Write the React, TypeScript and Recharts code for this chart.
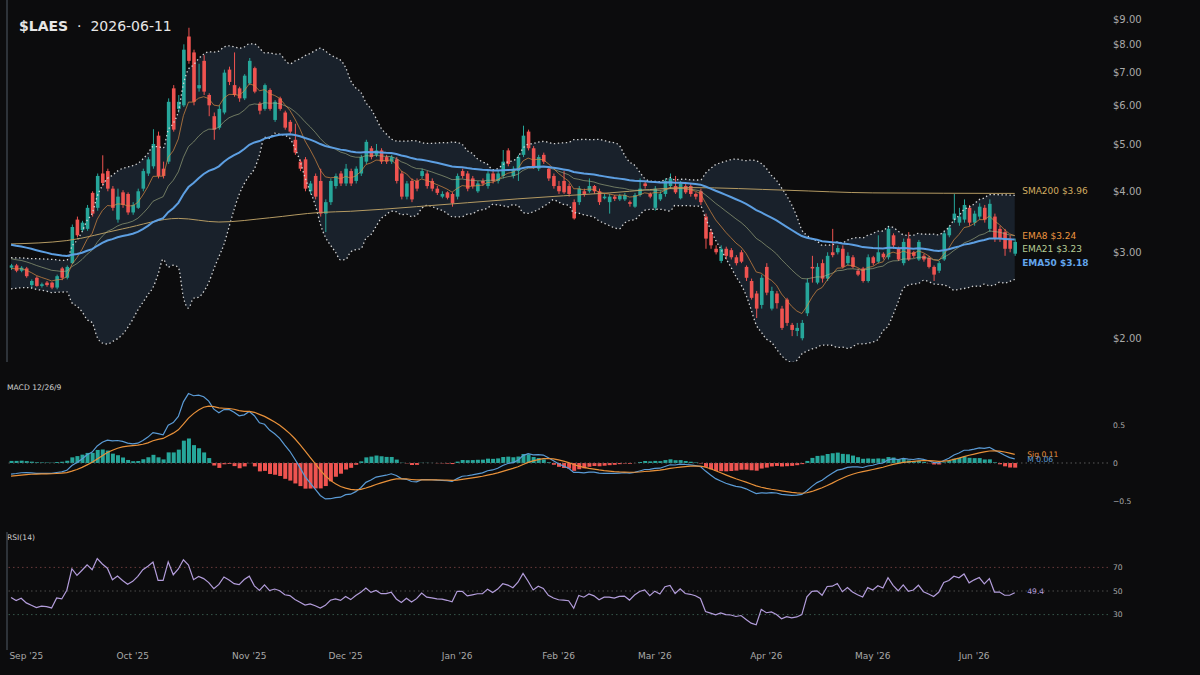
import React from 'react';
import { ComposedChart, Bar, Line, Area, XAxis, YAxis, ReferenceLine, ReferenceDot, Cell } from 'recharts';

// daily candles, Aug 27 2025 .. Jun 11 2026 (trading days)
const OPEN = [
  2.79, 2.82, 2.75, 2.78, 2.57, 2.66, 2.56, 2.60, 2.60, 2.54,
  2.78, 2.66, 2.85, 3.50, 3.33, 3.35, 3.97, 3.70, 4.35, 4.40,
  4.05, 3.50, 3.98, 3.95, 3.62, 3.70, 4.05, 4.35, 4.50, 5.20,
  4.45, 4.60, 6.50, 5.90, 6.00, 8.30, 7.70, 6.50, 7.40, 6.30,
  5.70, 5.40, 5.80, 7.10, 6.60, 6.50, 6.20, 6.65, 7.15, 6.05,
  5.90, 6.45, 5.60, 6.20, 5.80, 5.55, 5.10, 4.60, 4.65, 4.00,
  4.30, 4.20, 3.60, 3.80, 4.10, 4.35, 4.15, 4.40, 4.20, 4.35,
  4.60, 4.90, 4.75, 4.85, 4.70, 4.60, 4.65, 4.35, 3.90, 4.20,
  4.20, 4.30, 4.35, 4.20, 4.05, 3.90, 3.98, 3.95, 3.90, 4.40,
  4.35, 4.25, 4.00, 4.20, 4.10, 4.35, 4.20, 4.30, 4.85, 4.30,
  4.40, 4.75, 5.30, 4.90, 4.45, 4.75, 4.45, 4.30, 4.10, 4.20,
  4.10, 3.80, 3.80, 4.00, 4.00, 4.10, 4.00, 3.87, 3.80, 3.90,
  3.85, 3.85, 3.80, 3.72, 3.93, 4.15, 3.95, 3.70, 3.85, 3.95,
  4.10, 4.10, 3.87, 4.10, 4.10, 3.95, 4.00, 3.55, 3.30, 3.05,
  2.88, 3.05, 3.03, 2.93, 3.00, 2.80, 2.62, 2.47, 2.34, 2.80,
  2.30, 2.47, 2.30, 2.40, 2.13, 2.07, 2.00, 2.25, 2.80, 2.60,
  2.85, 2.65, 3.00, 3.00, 3.05, 2.85, 2.93, 2.75, 2.78, 2.62,
  2.93, 2.87, 2.98, 2.93, 3.25, 3.05, 2.85, 3.20, 3.00, 2.90,
  2.95, 2.92, 2.80, 2.75, 2.90, 3.25, 3.50, 3.45, 3.50, 3.70,
  3.45, 3.55, 3.70, 3.35, 3.55, 3.35, 3.30, 3.20, 2.98,
];
const HIGH = [
  2.84, 2.84, 2.81, 2.80, 2.64, 2.68, 2.60, 2.62, 2.61, 2.70,
  2.80, 2.82, 3.42, 3.55, 3.48, 3.75, 4.00, 4.35, 4.74, 4.45,
  4.10, 4.05, 4.02, 3.98, 3.80, 4.05, 4.45, 4.70, 5.36, 5.30,
  4.60, 6.20, 6.60, 6.30, 8.00, 8.65, 7.80, 7.30, 7.60, 6.35,
  5.80, 6.00, 7.10, 7.20, 7.70, 6.55, 6.95, 7.50, 7.20, 6.10,
  6.65, 6.50, 6.15, 6.25, 5.85, 5.60, 5.50, 4.65, 4.70, 4.20,
  4.35, 4.45, 3.85, 4.25, 4.35, 4.40, 4.55, 4.45, 4.50, 4.75,
  5.10, 4.95, 5.00, 4.90, 4.75, 4.75, 4.70, 4.40, 4.20, 4.25,
  4.25, 4.45, 4.40, 4.25, 4.10, 4.00, 4.00, 3.98, 4.35, 4.45,
  4.40, 4.30, 4.20, 4.25, 4.40, 4.40, 4.40, 4.86, 4.90, 4.50,
  4.75, 5.45, 5.35, 4.95, 4.75, 4.80, 4.50, 4.35, 4.20, 4.40,
  4.15, 3.85, 4.10, 4.05, 4.25, 4.12, 4.05, 3.95, 3.95, 3.93,
  3.95, 3.97, 3.83, 3.97, 4.25, 4.18, 3.98, 4.10, 4.00, 4.25,
  4.35, 4.30, 4.20, 4.15, 4.15, 3.98, 4.05, 3.60, 3.35, 3.10,
  3.10, 3.08, 3.06, 2.96, 3.03, 2.82, 2.65, 2.50, 2.70, 2.85,
  2.55, 2.50, 2.33, 2.42, 2.15, 2.15, 2.18, 2.65, 2.95, 2.85,
  2.90, 3.00, 3.35, 3.10, 3.10, 3.00, 2.96, 2.78, 2.80, 2.97,
  2.95, 3.25, 3.00, 3.40, 3.28, 3.08, 3.20, 3.30, 3.02, 3.18,
  2.98, 2.95, 2.82, 2.88, 3.32, 3.40, 3.95, 3.70, 3.85, 3.75,
  3.65, 3.78, 3.75, 3.85, 3.60, 3.40, 3.35, 3.25, 3.20,
];
const LOW = [
  2.76, 2.73, 2.73, 2.66, 2.54, 2.55, 2.54, 2.55, 2.52, 2.52,
  2.63, 2.64, 2.84, 3.22, 3.30, 3.32, 3.55, 3.65, 4.10, 4.00,
  3.65, 3.45, 3.70, 3.58, 3.58, 3.68, 4.00, 4.30, 4.45, 4.25,
  4.25, 4.55, 5.30, 5.80, 5.95, 7.30, 6.00, 6.40, 6.30, 5.70,
  5.10, 5.35, 5.75, 6.60, 6.25, 6.10, 6.15, 6.60, 6.35, 5.75,
  5.85, 5.85, 5.55, 5.85, 5.35, 5.25, 4.75, 4.40, 4.00, 3.95,
  3.85, 3.55, 3.30, 3.75, 4.05, 4.10, 4.10, 4.10, 4.15, 4.30,
  4.55, 4.65, 4.70, 4.55, 4.55, 4.55, 4.15, 3.85, 3.85, 3.80,
  4.00, 4.25, 4.05, 4.00, 3.93, 3.87, 3.85, 3.72, 3.85, 4.25,
  4.00, 4.05, 3.97, 4.10, 4.05, 4.15, 4.15, 4.25, 4.50, 4.25,
  4.20, 4.70, 4.85, 4.45, 4.40, 4.55, 4.20, 4.05, 3.95, 3.95,
  3.90, 3.50, 3.75, 3.90, 3.97, 3.95, 3.75, 3.85, 3.60, 3.82,
  3.82, 3.82, 3.72, 3.70, 3.90, 4.05, 3.87, 3.65, 3.82, 3.90,
  4.05, 3.95, 3.85, 3.95, 3.90, 3.85, 3.75, 3.05, 3.05, 2.97,
  2.85, 2.90, 2.90, 2.82, 2.85, 2.62, 2.40, 2.20, 2.30, 2.45,
  2.28, 2.30, 2.08, 2.12, 2.02, 2.02, 1.98, 2.22, 2.60, 2.58,
  2.60, 2.62, 2.93, 2.97, 2.78, 2.82, 2.78, 2.68, 2.60, 2.60,
  2.82, 2.85, 2.90, 2.90, 3.05, 2.88, 2.82, 2.88, 2.92, 2.88,
  2.87, 2.78, 2.62, 2.72, 2.88, 3.22, 3.45, 3.40, 3.45, 3.40,
  3.40, 3.50, 3.45, 3.30, 3.15, 3.15, 2.95, 3.00, 2.95,
];
const CLOSE = [
  2.82, 2.75, 2.79, 2.68, 2.62, 2.56, 2.58, 2.57, 2.54, 2.68,
  2.66, 2.80, 3.38, 3.25, 3.45, 3.70, 3.60, 4.30, 4.16, 4.05,
  3.70, 3.90, 3.75, 3.62, 3.75, 4.00, 4.40, 4.65, 5.00, 4.30,
  4.30, 6.10, 5.35, 6.10, 7.80, 7.40, 6.10, 6.60, 6.40, 6.00,
  5.35, 5.90, 7.00, 6.70, 6.30, 6.20, 6.90, 7.40, 6.40, 5.85,
  6.60, 5.90, 6.10, 5.90, 5.40, 5.30, 4.80, 4.45, 4.05, 4.15,
  3.90, 3.60, 3.80, 4.20, 4.30, 4.15, 4.45, 4.15, 4.45, 4.70,
  5.05, 4.70, 4.85, 4.60, 4.60, 4.70, 4.20, 3.90, 4.15, 3.85,
  4.05, 4.40, 4.10, 4.05, 3.97, 3.95, 3.88, 3.78, 4.30, 4.30,
  4.05, 4.10, 4.15, 4.15, 4.35, 4.20, 4.35, 4.60, 4.55, 4.45,
  4.70, 5.20, 4.90, 4.50, 4.70, 4.60, 4.25, 4.10, 4.00, 3.98,
  3.95, 3.52, 4.05, 3.95, 4.10, 4.00, 3.80, 3.90, 3.90, 3.86,
  3.92, 3.93, 3.77, 3.93, 4.05, 4.10, 3.90, 4.05, 3.95, 4.20,
  4.25, 3.98, 4.15, 3.98, 3.95, 3.90, 3.80, 3.20, 3.10, 3.00,
  3.05, 2.95, 2.93, 2.85, 2.87, 2.66, 2.42, 2.30, 2.66, 2.48,
  2.50, 2.36, 2.10, 2.15, 2.08, 2.10, 2.15, 2.60, 2.78, 2.80,
  2.65, 2.95, 2.96, 3.06, 2.80, 2.95, 2.80, 2.70, 2.62, 2.93,
  2.85, 3.00, 2.93, 3.35, 3.10, 2.90, 3.15, 2.90, 2.95, 3.15,
  2.90, 2.80, 2.70, 2.85, 3.28, 3.37, 3.60, 3.55, 3.75, 3.45,
  3.60, 3.72, 3.50, 3.77, 3.20, 3.20, 3.05, 3.05, 3.15,
];

// 200-day SMA at a few bars
const SMA200_IDX = [0, 11, 22, 33, 41, 51, 61, 67, 80, 100, 118, 134, 153, 170, 198];
const SMA200_VAL = [3.12, 3.17, 3.35, 3.52, 3.46, 3.53, 3.62, 3.64, 3.72, 3.86, 3.97, 4.07, 4.02, 3.97, 3.96];

// indicator values at the first bar
const SEED_EMA8 = 2.77;
const SEED_EMA21 = 2.92;
const SEED_EMA50 = 3.12;
const SEED_EMA12 = 2.79;
const SEED_EMA26 = 2.95;
const SEED_SIGNAL = -0.18;
const SEED_RSI_GAIN = 0.04;
const SEED_RSI_LOSS = 0.05;
const SEED_BB_MEAN = 2.72;
const SEED_BB_SD = 0.1;

const MONTH_IDX = [3, 24, 47, 66, 88, 108, 127, 149, 170, 190];
const MONTH_LABELS = ["Sep '25", "Oct '25", "Nov '25", "Dec '25", "Jan '26", "Feb '26", "Mar '26", "Apr '26", "May '26", "Jun '26"];
const PRICE_TICKS = [2, 3, 4, 5, 6, 7, 8, 9];
const MACD_TICKS = [-0.5, 0, 0.5];
const RSI_TICKS = [30, 50, 70];

const TAG_NAMES = ['SMA200', 'EMA8', 'EMA21', 'EMA50'];
const TAG_VALUES = [3.96, 3.24, 3.23, 3.18];
const MACD_TAG_NAMES = ['Sig', 'M'];
const MACD_TAG_VALUES = [0.11, 0.06];
const RSI_LAST = 49.4;

const FONT = '"DejaVu Sans", Verdana, sans-serif';
const BG = '#0c0c0d';
const UP = '#26a69a';
const DOWN = '#ef5350';
const X_DOMAIN: [number, number] = [-0.8, 216.4];

const ema = (vals: number[], period: number, seed: number) => {
  const k = 2 / (period + 1);
  let e = seed;
  return vals.map((v) => (e = e + k * (v - e)));
};

const ema8 = ema(CLOSE, 8, SEED_EMA8);
const ema21 = ema(CLOSE, 21, SEED_EMA21);
const ema50 = ema(CLOSE, 50, SEED_EMA50);
const ema12 = ema(CLOSE, 12, SEED_EMA12);
const ema26 = ema(CLOSE, 26, SEED_EMA26);
const macd = ema12.map((v, i) => v - ema26[i]);
const signal = ema(macd, 9, SEED_SIGNAL);

const rsi: number[] = [];
{
  let g = SEED_RSI_GAIN;
  let l = SEED_RSI_LOSS;
  CLOSE.forEach((c, i) => {
    if (i > 0) {
      const d = c - CLOSE[i - 1];
      g = (g * 13 + Math.max(d, 0)) / 14;
      l = (l * 13 + Math.max(-d, 0)) / 14;
    }
    rsi.push(100 - 100 / (1 + g / l));
  });
}

const bb = CLOSE.map((_, i) => {
  const win = CLOSE.slice(Math.max(0, i - 19), i + 1);
  const miss = 20 - win.length;
  const mean = (miss * SEED_BB_MEAN + win.reduce((a, b) => a + b, 0)) / 20;
  const v =
    (miss * (SEED_BB_SD ** 2 + (SEED_BB_MEAN - mean) ** 2) +
      win.reduce((a, b) => a + (b - mean) ** 2, 0)) / 20;
  const sd = Math.sqrt(v);
  return { up: mean + 2 * sd, lo: mean - 2 * sd };
});

const rows = CLOSE.map((c, i) => {
  const si = SMA200_IDX.indexOf(i);
  return {
    i,
    open: OPEN[i],
    high: HIGH[i],
    low: LOW[i],
    close: c,
    hl: [LOW[i], HIGH[i]],
    ema8: ema8[i],
    ema21: ema21[i],
    ema50: ema50[i],
    sma200: si >= 0 ? SMA200_VAL[si] : null,
    bbUp: bb[i].up,
    bbLo: bb[i].lo,
    band: [bb[i].lo, bb[i].up],
    macd: macd[i],
    signal: signal[i],
    hist: macd[i] - signal[i],
    rsi: rsi[i],
  };
});
const LAST = rows.length - 1;

const Candle = (props: any) => {
  const { x, y, width, height, payload } = props;
  if (!payload || height == null) return null;
  const { open, close, high, low } = payload;
  const color = close >= open ? UP : DOWN;
  const lh = Math.log(high);
  const ll = Math.log(low);
  const toY = (p: number) => (lh === ll ? y : y + (height * (lh - Math.log(p))) / (lh - ll));
  const cx = x + width / 2;
  const yo = toY(open);
  const yc = toY(close);
  const bw = 3.6;
  return (
    <g>
      <line x1={cx} x2={cx} y1={y} y2={y + height} stroke={color} strokeWidth={1} />
      <rect x={cx - bw / 2} y={Math.min(yo, yc)} width={bw} height={Math.max(1, Math.abs(yo - yc))} fill={color} />
    </g>
  );
};

const Tag = (props: any) => {
  const { viewBox, text, color, dx, dy, bold, size } = props;
  if (!viewBox) return null;
  return (
    <text
      x={viewBox.x + viewBox.width / 2 + dx}
      y={viewBox.y + viewBox.height / 2 + dy}
      fill={color}
      fontSize={size}
      fontWeight={bold ? 'bold' : 'normal'}
      fontFamily={FONT}
      dominantBaseline="central"
    >
      {text}
    </text>
  );
};

const TAG_COLORS = ['#d2ac62', '#ee9640', '#b7cf96', '#62a5ec'];
const TAG_DY = [-2, 0, 12.5, 23];

const App: React.FC = () => {
  const axisTick = { fill: '#a9a9a9', fontSize: 10, fontFamily: FONT };
  const smallTick = { fill: '#a9a9a9', fontSize: 7.6, fontFamily: FONT };
  return (
    <div style={{ position: 'absolute', left: 0, top: 0, width: 1200, height: 675, background: BG, overflow: 'hidden', fontFamily: FONT }}>
      <div style={{ position: 'absolute', left: 19, top: 19, fontSize: 14, lineHeight: '14px', color: '#e6e6e6', whiteSpace: 'pre' }}>
        <span style={{ fontWeight: 'bold' }}>$LAES</span>
        <span>{'  ·  2026-06-11'}</span>
      </div>

      {/* price panel */}
      <div style={{ position: 'absolute', left: 0, top: 0 }}>
        <ComposedChart width={1200} height={362} data={rows} margin={{ top: 0, right: 0, bottom: 0, left: 7 }}>
          <XAxis dataKey="i" type="number" domain={X_DOMAIN} allowDataOverflow hide />
          <YAxis
            orientation="right"
            scale="log"
            domain={[1.788, 9.86]}
            allowDataOverflow
            ticks={PRICE_TICKS}
            tickFormatter={(v: number) => `$${v.toFixed(2)}`}
            width={92}
            axisLine={false}
            tickLine={false}
            tickSize={0}
            tickMargin={5}
            tick={axisTick}
          />
          <Area dataKey="band" type="monotone" fill="#19212b" fillOpacity={1} stroke="none" isAnimationActive={false} />
          <Line dataKey="bbUp" type="monotone" stroke="#d6d6d6" strokeWidth={1.3} strokeDasharray="1.4 2.6" dot={false} isAnimationActive={false} />
          <Line dataKey="bbLo" type="monotone" stroke="#d6d6d6" strokeWidth={1.3} strokeDasharray="1.4 2.6" dot={false} isAnimationActive={false} />
          <Line dataKey="sma200" type="monotone" connectNulls stroke="#b49a62" strokeWidth={1} dot={false} isAnimationActive={false} />
          <Line dataKey="ema21" stroke="#a9b486" strokeOpacity={0.6} strokeWidth={1} dot={false} isAnimationActive={false} />
          <Line dataKey="ema8" stroke="#d88a42" strokeOpacity={0.7} strokeWidth={1} dot={false} isAnimationActive={false} />
          <Line dataKey="ema50" stroke="#5d9fe2" strokeWidth={2} dot={false} isAnimationActive={false} />
          <Bar dataKey="hl" barSize={4} shape={Candle} isAnimationActive={false} />
          <ReferenceLine x={X_DOMAIN[0]} stroke="#3a4049" strokeWidth={1.5} />
          {TAG_NAMES.map((n, k) => (
            <ReferenceDot
              key={n}
              x={LAST}
              y={TAG_VALUES[k]}
              r={0.5}
              fill="none"
              stroke="none"
              label={<Tag text={`${n} $${TAG_VALUES[k].toFixed(2)}`} color={TAG_COLORS[k]} dx={7.5} dy={TAG_DY[k]} bold={n === 'EMA50'} size={9} />}
            />
          ))}
        </ComposedChart>
      </div>

      {/* MACD panel */}
      <div style={{ position: 'absolute', left: 7, top: 383, fontSize: 7.6, lineHeight: '10px', color: '#cfcfcf' }}>MACD 12/26/9</div>
      <div style={{ position: 'absolute', left: 0, top: 378 }}>
        <ComposedChart width={1200} height={150} data={rows} margin={{ top: 0, right: 0, bottom: 0, left: 7 }}>
          <XAxis dataKey="i" type="number" domain={X_DOMAIN} allowDataOverflow hide />
          <YAxis
            orientation="right"
            domain={[-0.8553, 1.1184]}
            allowDataOverflow
            ticks={MACD_TICKS}
            tickFormatter={(v: number) => (v < 0 ? '\u22120.5' : v === 0 ? '0' : '0.5')}
            width={92}
            axisLine={false}
            tickLine={false}
            tickSize={0}
            tickMargin={5}
            tick={smallTick}
          />
          <ReferenceLine y={0} stroke="#5a5a5a" strokeDasharray="1.5 3" />
          <Bar dataKey="hist" barSize={4} isAnimationActive={false}>
            {rows.map((r) => (
              <Cell key={r.i} fill={r.hist >= 0 ? UP : DOWN} />
            ))}
          </Bar>
          <Line dataKey="macd" stroke="#5b9bd5" strokeWidth={1.2} dot={false} isAnimationActive={false} />
          <Line dataKey="signal" stroke="#e8913a" strokeWidth={1.2} dot={false} isAnimationActive={false} />
          {MACD_TAG_NAMES.map((n, k) => (
            <ReferenceDot
              key={n}
              x={LAST}
              y={MACD_TAG_VALUES[k]}
              r={0.5}
              fill="none"
              stroke="none"
              label={<Tag text={`${n} ${MACD_TAG_VALUES[k].toFixed(2)}`} color={k === 0 ? '#e8913a' : '#5b9bd5'} dx={12.5} dy={k === 0 ? 0 : 1} size={7.6} />}
            />
          ))}
        </ComposedChart>
      </div>

      {/* RSI panel */}
      <div style={{ position: 'absolute', left: 7, top: 533, fontSize: 7.6, lineHeight: '10px', color: '#cfcfcf' }}>RSI(14)</div>
      <div style={{ position: 'absolute', left: 0, top: 532 }}>
        <ComposedChart width={1200} height={143} data={rows} margin={{ top: 0, right: 0, bottom: 0, left: 7 }}>
          <XAxis
            dataKey="i"
            type="number"
            domain={X_DOMAIN}
            allowDataOverflow
            ticks={MONTH_IDX}
            interval={0}
            tickFormatter={(v: number) => MONTH_LABELS[MONTH_IDX.indexOf(v)] ?? ''}
            axisLine={false}
            tickLine={false}
            tickSize={0}
            tickMargin={3}
            height={25}
            tick={{ fill: '#a9a9a9', fontSize: 9, fontFamily: FONT }}
          />
          <YAxis
            orientation="right"
            domain={[0, 100]}
            ticks={RSI_TICKS}
            width={92}
            axisLine={false}
            tickLine={false}
            tickSize={0}
            tickMargin={5}
            tick={smallTick}
          />
          <ReferenceLine y={70} stroke="#6a3b3b" strokeDasharray="1.5 3" />
          <ReferenceLine y={50} stroke="#4c4c4c" strokeDasharray="1.5 3" />
          <ReferenceLine y={30} stroke="#37574a" strokeDasharray="1.5 3" />
          <ReferenceLine x={X_DOMAIN[0]} stroke="#3a4049" strokeWidth={1.5} />
          <Line dataKey="rsi" stroke="#b39ddb" strokeWidth={1.2} dot={false} isAnimationActive={false} />
          <ReferenceDot
            x={LAST}
            y={RSI_LAST}
            r={0.5}
            fill="none"
            stroke="none"
            label={<Tag text={RSI_LAST.toFixed(1)} color="#b39ddb" dx={12.5} dy={0} size={7.6} />}
          />
        </ComposedChart>
      </div>
    </div>
  );
};

export default App;
